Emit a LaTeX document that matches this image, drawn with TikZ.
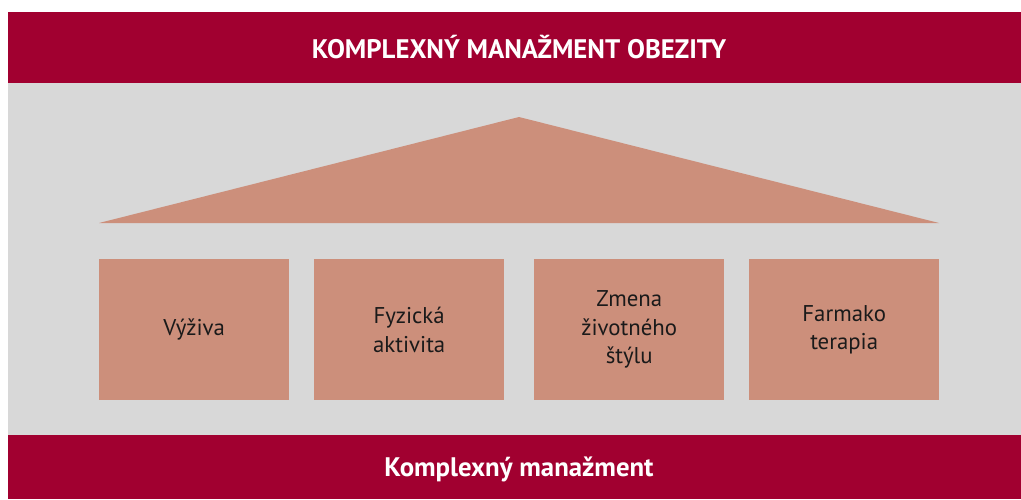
\documentclass[tikz,border=0pt]{standalone}
\usepackage{fontspec}
\setmainfont{PT Sans}
\definecolor{crimson}{HTML}{A10030}
\definecolor{panel}{HTML}{D8D8D8}
\definecolor{salmon}{HTML}{CC8F7B}
\definecolor{ink}{HTML}{1A1A1A}
\begin{document}
\begin{tikzpicture}[x=1pt,y=-1pt,
  band/.style={fill=crimson,draw=none},
  pillar/.style={fill=salmon,draw=none,minimum width=190pt,minimum height=141pt,
    anchor=north west,inner sep=0pt,align=center,text=ink,font=\fontsize{22.8}{28.5}\selectfont},
  bandtext/.style={text=white,font=\bfseries\fontsize{26.8}{30}\selectfont}]
  \useasboundingbox (0,0) rectangle (1021,499);
  % background panel and bands
  \fill[panel] (8,83) rectangle (1021,435);
  \fill[band] (8,12) rectangle (1021,83);
  \fill[band] (8,435) rectangle (1021,499);
  \node[bandtext] (title) at (519,47.5) {KOMPLEXNÝ MANAŽMENT OBEZITY};
  \node[bandtext] (footer) at (519,469) {Komplexný manažment};
  % roof
  \fill[salmon] (99,223) -- (519,117) -- (939,223) -- cycle;
  % pillars
  \node[pillar] (p1) at (99,259) {Výživa};
  \node[pillar] (p2) at (314,259) {Fyzická\\aktivita};
  \node[pillar] (p3) at (534,259) {Zmena\\životného\\štýlu};
  \node[pillar] (p4) at (749,259) {Farmako\\terapia};
\end{tikzpicture}
\end{document}
